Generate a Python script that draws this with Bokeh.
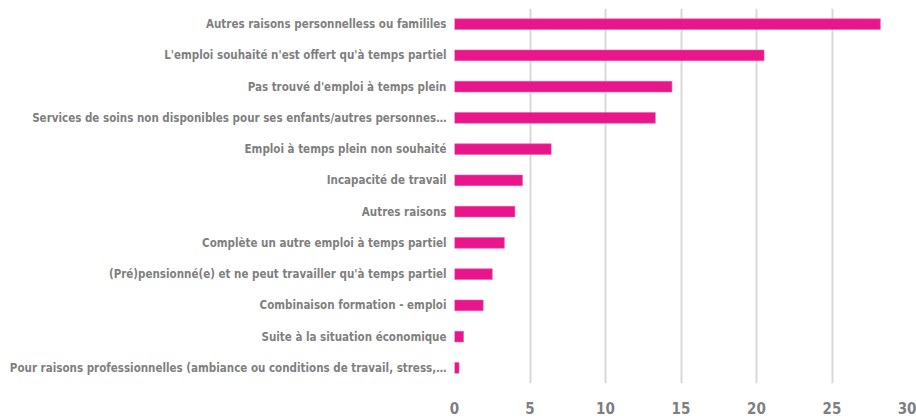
from bokeh.plotting import figure
from bokeh.models import FactorRange, Range1d, FixedTicker
from bokeh.embed import file_html
from bokeh.resources import INLINE

categories = [
    "Autres raisons personnelless ou famililes",
    "L'emploi souhaité n'est offert qu'à temps partiel",
    "Pas trouvé d'emploi à temps plein",
    "Services de soins non disponibles pour ses enfants/autres personnes…",
    "Emploi à temps plein non souhaité",
    "Incapacité de travail",
    "Autres raisons",
    "Complète un autre emploi à temps partiel",
    "(Pré)pensionné(e) et ne peut travailler qu'à temps partiel",
    "Combinaison formation - emploi",
    "Suite à la situation économique",
    "Pour raisons professionnelles (ambiance ou conditions de travail, stress,…",
]
values = [28.2, 20.5, 14.4, 13.3, 6.4, 4.5, 4.0, 3.3, 2.5, 1.9, 0.6, 0.3]
x_ticks = [0, 5, 10, 15, 20, 25, 30]

FONT = "DejaVu Sans Condensed, sans-serif"
GRAY = "#7f7f7f"

p = figure(
    width=916, height=416,
    y_range=FactorRange(factors=list(reversed(categories)), range_padding=0),
    x_range=Range1d(0, 30),
    output_backend="svg", toolbar_location=None,
    min_border_left=454, min_border_right=9, min_border_top=8, min_border_bottom=29,
)
p.hbar(y=categories, right=values, left=0, height=0.34,
       fill_color="#E8158B", line_color="#EE5AAB", line_width=0.6)

p.outline_line_color = None
p.ygrid.grid_line_color = None
p.xgrid.grid_line_color = "#d9d9d9"
p.xgrid.grid_line_width = 2
p.xgrid.ticker = FixedTicker(ticks=x_ticks)

p.xaxis.ticker = FixedTicker(ticks=x_ticks)
p.xaxis.axis_line_color = None
p.xaxis.major_tick_line_color = None
p.xaxis.minor_tick_line_color = None
p.xaxis.major_label_text_font = FONT
p.xaxis.major_label_text_font_style = "bold"
p.xaxis.major_label_text_font_size = "15px"
p.xaxis.major_label_text_color = GRAY
p.xaxis.major_label_standoff = 12

p.yaxis.axis_line_color = None
p.yaxis.major_tick_line_color = None
p.yaxis.minor_tick_line_color = None
p.yaxis.major_label_text_font = FONT
p.yaxis.major_label_text_font_style = "bold"
p.yaxis.major_label_text_font_size = "11.5px"
p.yaxis.major_label_text_color = GRAY
p.yaxis.major_label_standoff = 2

open("out.html", "w").write(file_html(p, INLINE))
